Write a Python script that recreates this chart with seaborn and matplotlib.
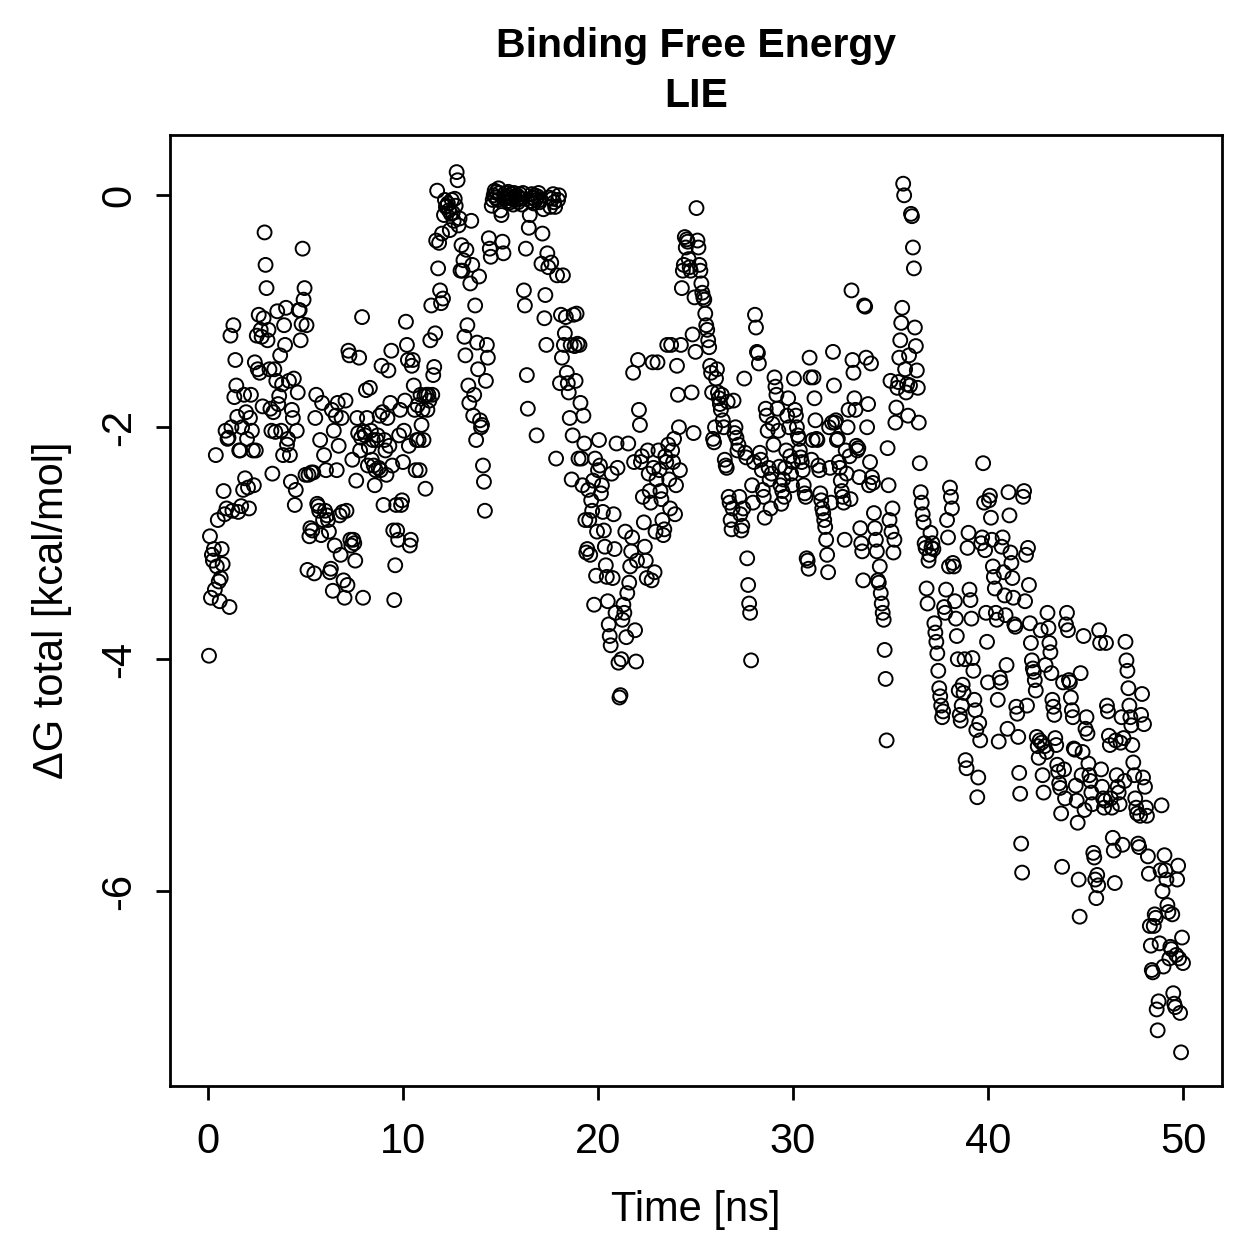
import numpy as np
import pandas as pd
import matplotlib
matplotlib.use("Agg")
import matplotlib.pyplot as plt
import seaborn as sns

title_text = "Binding Free Energy\nLIE"
x_label = "Time [ns]"
y_label = "\u0394G total [kcal/mol]"
x_ticks = [0, 10, 20, 30, 40, 50]
y_ticks = [0, -2, -4, -6]
y_tick_labels = ["0", "-2", "-4", "-6"]
time_step_ns = 0.05

dg_0_10 = [
    -3.97,-2.94,-3.47,-3.1,-3.15,-3.05,-3.4,-2.24,-3.2,-2.8,-3.33,-3.5,-3.3,-3.05,-3.18,-2.55,-2.75,-2.03,-2.7,-2.1,
    -2.09,-3.55,-1.21,-2.0,-2.72,-1.12,-1.74,-1.42,-1.64,-1.91,-2.73,-2.2,-2.2,-2.68,-2.0,-2.54,-1.72,-2.44,-1.87,-2.1,
    -2.52,-2.7,-1.92,-1.72,-2.03,-2.2,-2.5,-1.44,-2.2,-1.21,-1.5,-1.03,-1.53,-1.16,-1.22,-1.82,-1.06,-0.32,-0.6,-0.8,
    -1.25,-1.16,-1.5,-1.84,-2.03,-2.4,-1.87,-1.5,-2.04,-1.6,-1.0,-1.8,-1.73,-1.38,-2.03,-1.63,-2.24,-1.12,-1.29,-0.97,
    -2.15,-2.1,-1.6,-2.24,-2.47,-1.85,-1.92,-1.58,-2.67,-2.54,-2.03,-1.7,-0.99,-0.99,-1.25,-1.11,-0.46,-0.9,-0.8,-2.41,
    -1.12,-3.23,-2.41,-2.94,-2.87,-2.39,-2.89,-2.39,-3.26,-1.92,-1.72,-2.66,-2.68,-2.72,-2.11,-2.93,-1.79,-2.8,-2.24,-2.72,
    -2.37,-2.76,-2.8,-2.9,-3.25,-3.22,-1.85,-3.41,-2.03,-3.02,-1.9,-2.37,-1.79,-2.16,-2.76,-3.1,-1.92,-2.73,-3.32,-3.47,
    -1.77,-2.72,-3.36,-1.34,-1.38,-2.97,-3.02,-2.28,-2.97,-3.0,-3.15,-2.46,-1.92,-2.05,-1.4,-2.2,-2.09,-1.05,-3.47,-2.04,
    -2.07,-1.68,-1.92,-2.33,-2.17,-1.66,-2.03,-2.28,-2.11,-2.33,-2.5,-2.37,-2.11,-2.07,-2.35,-1.9,-2.37,-1.47,-1.87,-2.67,
    -2.11,-2.2,-2.41,-1.92,-1.51,-2.16,-1.79,-1.34,-2.33,-2.89,-3.49,-3.19,-2.67,-2.89,-2.97,-2.07,-1.85,-2.67,-2.63,-2.3,
]

dg_10_20 = [
    -2.03,-1.77,-1.09,-1.29,-1.42,-2.16,-3.02,-2.97,-1.47,-1.42,-1.64,-1.85,-2.37,-2.11,-1.81,-2.11,-2.37,-1.72,-1.98,-1.85,
    -2.11,-1.73,-2.53,-1.72,-1.85,-1.72,-1.77,-1.25,-0.95,-1.72,-1.55,-1.48,-1.19,-0.39,0.04,-0.63,-0.41,-0.82,-0.93,-0.33,
    -0.89,-0.17,-0.04,-0.1,-0.09,-0.07,-0.13,-0.3,-0.16,-0.04,-0.15,-0.22,-0.03,-0.09,0.2,0.13,-0.26,-0.2,-0.65,-0.43,
    -0.65,-0.56,-1.22,-1.38,-0.47,-1.12,-1.64,-1.79,-0.76,-0.22,-0.6,-1.9,-1.72,-0.95,-2.11,-1.27,-1.5,-0.7,-1.94,-2.0,
    -1.98,-2.33,-2.47,-2.72,-1.6,-1.29,-1.4,-0.37,-0.46,-0.53,-0.09,-0.04,0.0,0.04,-0.02,0.03,-0.04,0.06,0.02,-0.13,
    -0.17,-0.4,-0.5,-0.03,0.02,-0.01,-0.05,0.03,-0.02,-0.06,0.01,-0.03,-0.08,0.02,-0.01,-0.04,0.0,-0.06,-0.02,0.01,
    -0.03,-0.08,0.02,-0.82,-0.95,-0.46,-1.55,-1.84,-0.28,-0.17,-0.05,0.01,-0.02,-0.07,0.0,-0.04,-2.07,-0.01,0.02,-0.06,
    -0.04,-0.59,-0.33,-0.12,-1.06,-0.86,-1.29,-0.5,-0.62,-0.02,-0.1,-0.58,-0.03,0.01,-0.06,-0.1,-2.27,-0.69,-0.04,0.0,
    -1.62,-1.03,-1.4,-0.69,-1.29,-1.19,-1.05,-1.53,-1.62,-1.7,-1.92,-1.29,-2.45,-2.07,-1.03,-1.3,-1.6,-1.02,-1.28,-2.27,
    -1.29,-1.79,-2.27,-2.5,-1.9,-2.14,-2.8,-3.08,-3.05,-2.54,-2.8,-3.1,-2.63,-2.72,-2.46,-3.53,-2.27,-3.28,-2.9,-2.37,
]

dg_20_30 = [
    -2.11,-2.33,-2.57,-2.5,-2.73,-2.89,-3.03,-3.19,-3.29,-3.5,-3.7,-3.8,-3.88,-2.4,-3.3,-2.75,-3.05,-3.6,-2.14,-2.35,
    -4.03,-4.33,-4.31,-4.0,-3.66,-3.53,-3.6,-2.9,-3.81,-3.43,-2.14,-3.34,-3.2,-3.07,-2.95,-1.53,-2.3,-3.75,-4.02,-3.15,
    -1.42,-1.85,-1.98,-2.3,-2.25,-2.6,-2.82,-3.03,-3.15,-3.3,-2.2,-2.4,-2.55,-2.65,-3.32,-1.44,-2.35,-3.25,-2.9,-2.45,
    -1.44,-2.2,-2.37,-2.55,-2.62,-2.8,-2.93,-2.88,-2.25,-2.3,-1.29,-2.15,-2.45,-2.7,-1.29,-2.2,-2.3,-2.1,-2.75,-2.5,
    -1.47,-1.72,-2.0,-2.37,-1.29,-0.8,-0.65,-0.6,-0.36,-0.45,-0.38,-0.4,-0.55,-0.62,-0.65,-1.7,-1.2,-2.05,-0.88,-1.35,
    -0.11,-0.39,-0.45,-0.6,-0.65,-0.76,-0.84,-0.88,-0.9,-1.02,-1.12,-1.16,-1.25,-1.31,-1.47,-1.53,-1.7,-2.1,-2.13,-2.0,
    -1.58,-1.5,-1.7,-1.75,-1.8,-1.85,-1.72,-1.94,-2.0,-2.28,-2.33,-2.35,-1.78,-2.6,-2.65,-2.8,-2.88,-2.7,-1.77,-2.05,
    -2.0,-2.09,-2.2,-2.15,-2.6,-2.75,-2.89,-2.85,-2.7,-1.58,-2.22,-2.26,-3.13,-3.36,-3.52,-3.6,-4.01,-2.5,-2.65,-2.3,
    -1.03,-1.14,-1.35,-1.36,-1.45,-2.22,-2.28,-2.37,-2.54,-2.6,-2.78,-1.84,-1.9,-2.03,-2.35,-2.45,-2.7,-2.4,-1.97,-2.15,
    -1.57,-1.65,-1.72,-1.84,-2.03,-2.34,-2.5,-2.66,-2.55,-2.45,-2.6,-2.35,-2.2,-1.9,-1.75,-2.0,-2.25,-2.4,-2.5,-2.3,
]

dg_30_40 = [
    -1.58,-1.85,-1.9,-2.0,-2.07,-2.1,-2.2,-2.26,-2.3,-2.37,-2.5,-2.57,-2.6,-3.13,-3.15,-3.22,-1.4,-1.57,-2.28,-2.11,
    -1.57,-1.75,-1.94,-2.1,-2.11,-2.33,-2.37,-2.57,-2.63,-2.7,-2.74,-2.8,-2.86,-2.97,-3.1,-3.25,-2.0,-2.35,-2.65,-1.96,
    -1.35,-1.64,-1.96,-1.94,-2.11,-2.1,-2.3,-2.35,-2.46,-2.55,-2.6,-2.65,-2.97,-2.2,-2.4,-2.0,-1.85,-2.25,-2.62,-0.82,
    -1.42,-1.53,-1.75,-1.85,-2.16,-2.2,-2.18,-2.43,-2.87,-3.0,-3.07,-3.32,-0.95,-0.96,-1.4,-2.0,-1.8,-2.5,-2.3,-1.45,
    -2.43,-2.48,-2.74,-2.87,-2.97,-3.07,-3.32,-3.34,-3.2,-3.43,-3.52,-3.6,-3.66,-3.92,-4.17,-4.7,-2.18,-2.5,-2.8,-1.6,
    -2.9,-2.7,-3.08,-2.97,-1.96,-1.83,-1.66,-1.61,-1.4,-1.25,-1.1,-0.97,0.1,0.0,-1.5,-1.7,-1.63,-1.9,-1.38,-1.64,
    -0.16,-0.18,-0.45,-0.63,-1.14,-1.3,-1.51,-1.66,-1.96,-2.31,-2.56,-2.65,-2.75,-2.82,-3.0,-3.04,-3.39,-3.52,-3.15,-3.1,
    -2.91,-3.04,-3.0,-3.05,-3.69,-3.77,-3.85,-3.95,-4.1,-4.25,-4.32,-4.4,-4.5,-4.45,-3.55,-3.6,-3.4,-2.8,-2.95,-3.2,
    -2.52,-2.6,-2.7,-3.17,-3.2,-3.5,-3.65,-3.8,-4.0,-4.27,-4.48,-4.53,-4.4,-4.22,-4.29,-4.0,-4.87,-4.94,-3.04,-2.91,
    -3.4,-3.49,-3.65,-3.99,-4.1,-4.35,-4.44,-4.61,-5.19,-5.02,-4.55,-4.7,-3.0,-2.95,-2.31,-2.65,-3.06,-3.6,-3.85,-4.2,
]

dg_40_50 = [
    -2.63,-2.59,-2.78,-2.97,-3.2,-3.29,-3.39,-3.6,-3.66,-4.35,-4.71,-4.16,-4.2,-3.03,-2.95,-3.25,-3.45,-3.62,-4.05,-4.6,
    -2.56,-2.76,-3.08,-3.17,-3.3,-3.47,-3.7,-3.72,-4.41,-4.47,-4.67,-4.98,-5.16,-5.59,-5.84,-2.6,-2.55,-3.5,-3.1,-4.4,
    -3.04,-3.36,-3.69,-3.86,-4.01,-4.08,-4.11,-4.18,-4.27,-4.67,-4.75,-4.85,-4.7,-3.75,-4.72,-5.0,-5.15,-4.75,-4.05,-4.8,
    -3.6,-3.73,-3.86,-3.94,-4.12,-4.35,-4.41,-4.48,-4.68,-4.74,-4.91,-4.97,-5.07,-5.11,-5.33,-5.79,-4.2,-4.95,-5.2,-3.7,
    -3.6,-3.75,-4.18,-4.2,-4.33,-4.44,-4.5,-4.77,-4.78,-5.09,-5.22,-5.41,-5.9,-6.22,-4.12,-5.0,-4.8,-3.8,-5.3,-4.6,
    -4.5,-4.64,-4.9,-5.0,-5.05,-5.15,-5.25,-5.67,-5.71,-5.9,-6.06,-5.86,-5.95,-3.75,-3.86,-4.95,-5.1,-5.2,-5.28,-5.22,
    -3.86,-4.4,-4.45,-4.66,-4.74,-5.2,-5.28,-5.54,-5.65,-5.93,-4.7,-5.0,-5.1,-5.15,-5.25,-4.72,-4.5,-5.6,-4.68,-5.05,
    -3.85,-4.01,-4.1,-4.25,-4.4,-4.5,-4.57,-4.74,-4.89,-5.0,-5.2,-5.28,-5.33,-5.59,-5.62,-5.35,-4.48,-4.3,-5.02,-4.56,
    -5.1,-5.28,-5.35,-5.7,-5.85,-6.3,-6.47,-6.68,-6.7,-6.3,-6.2,-6.23,-7.02,-7.2,-6.95,-6.45,-5.82,-5.26,-6.0,-6.65,
    -5.69,-5.82,-5.9,-6.12,-6.18,-6.58,-6.48,-6.5,-6.2,-6.88,-6.97,-7.0,-6.55,-5.9,-5.78,-6.58,-7.05,-7.39,-6.4,-6.62,
]

dg_total = dg_0_10 + dg_10_20 + dg_20_30 + dg_30_40 + dg_40_50
time_ns = np.arange(1, len(dg_total) + 1) * time_step_ns

df = pd.DataFrame({"time": time_ns, "dg": dg_total})

sns.set_style("ticks")
plt.rcParams["font.family"] = ["Liberation Sans", "DejaVu Sans"]
plt.rcParams["text.color"] = "black"
plt.rcParams["axes.labelcolor"] = "black"

fig = plt.figure(figsize=(12.59, 12.59), dpi=100)
ax = fig.add_axes([170 / 1259, 1 - 1086 / 1259, (1222 - 170) / 1259, (1086 - 135) / 1259])

sns.scatterplot(data=df, x="time", y="dg", ax=ax, marker="o", s=100,
                facecolor="none", edgecolor="black", linewidth=1.4, legend=False)

ax.set_xlim(-1.95, 52.0)
ax.set_ylim(-7.68, 0.52)
ax.set_xticks(x_ticks)
ax.set_xticklabels([str(t) for t in x_ticks])
ax.set_yticks(y_ticks)
ax.set_yticklabels(y_tick_labels, rotation=90, va="center")

for s in ax.spines.values():
    s.set_linewidth(2.0)
    s.set_color("black")
    s.set_visible(True)

ax.tick_params(axis="both", direction="out", length=10, width=2.0, labelsize=30,
               colors="black", labelcolor="black")
ax.tick_params(axis="x", pad=16)
ax.tick_params(axis="y", pad=12)

ax.set_xlabel(x_label, fontsize=30, labelpad=20, color="black")
ax.set_ylabel(y_label, fontsize=30, labelpad=20, color="black")
ax.set_title(title_text, fontsize=29.5, fontweight="bold", pad=20, linespacing=1.4, color="black")

fig.savefig("out.png", dpi=100, facecolor="white")
